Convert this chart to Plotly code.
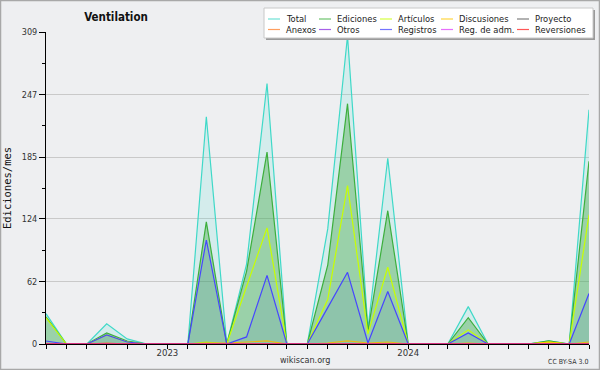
import plotly.graph_objects as go
import pandas as pd

# ---------------- data ----------------
months = pd.date_range("2022-07-01", periods=28, freq="MS")

total       = [30, 0, 0, 20, 5, 0, 0, 0, 225, 0, 79, 258, 0, 0, 114, 305, 15, 184, 0, 0, 0, 37, 0, 0, 0, 3, 0, 232]
ediciones   = [27, 0, 0, 11, 3, 0, 0, 0, 121, 0, 72, 190, 0, 0, 78, 238, 13, 132, 0, 0, 0, 26, 0, 0, 0, 3, 0, 181]
articulos   = [26, 0, 0, 9, 2, 0, 0, 0, 2, 0, 57, 115, 0, 0, 44, 157, 10, 76, 0, 0, 0, 14, 0, 0, 0, 2, 0, 128]
discusiones = [0, 0, 0, 0, 0, 0, 0, 0, 1, 1, 2, 3, 0, 0, 1, 3, 1, 2, 0, 0, 0, 1, 0, 0, 0, 2, 0, 2]
proyecto    = [0, 0, 0, 0, 0, 0, 0, 0, 0, 0, 0, 0, 0, 0, 0, 0, 0, 0, 0, 0, 0, 0, 0, 0, 0, 0, 0, 0]
anexos      = [0, 0, 0, 1, 0, 0, 0, 0, 0, 0, 0, 0, 0, 0, 0, 0, 0, 0, 0, 0, 0, 0, 0, 0, 0, 0, 0, 0]
otros       = [0, 0, 0, 0, 0, 0, 0, 0, 0, 0, 0, 0, 0, 0, 0, 0, 0, 0, 0, 0, 0, 0, 0, 0, 0, 0, 0, 0]
registros   = [3, 0, 0, 9, 2, 0, 0, 0, 103, 0, 7, 68, 0, 0, 36, 71, 1, 52, 0, 0, 0, 11, 0, 0, 0, 0, 0, 50]
reg_adm     = [0, 0, 0, 0, 0, 0, 0, 0, 0, 0, 0, 0, 0, 0, 0, 0, 0, 0, 0, 0, 0, 0, 0, 0, 0, 0, 0, 0]
reversiones = [0, 0, 0, 0, 0, 0, 0, 0, 0, 0, 0, 0, 0, 0, 0, 0, 0, 0, 0, 0, 0, 0, 0, 0, 0, 0, 0, 0]

series_names = ["Total", "Ediciones", "Artículos", "Discusiones", "Proyecto",
                "Anexos", "Otros", "Registros", "Reg. de adm.", "Reversiones"]
series_values = [total, ediciones, articulos, discusiones, proyecto,
                 anexos, otros, registros, reg_adm, reversiones]

y_tick_values = [0, 62, 124, 185, 247, 309]
y_minor_values = [31, 93, 154.5, 216, 278]
year_labels = {"2023-01": "2023", "2024-01": "2024"}

# ---------------- style ----------------
colors = ["#3fd9c8", "#3caf3c", "#c8ff00", "#ffc800", "#555555",
          "#ff7f2a", "#8a2be2", "#4646ff", "#e040fb", "#ff2020"]
fills = {"Total": "rgba(64,224,208,0.15)",
         "Ediciones": "rgba(60,165,60,0.38)",
         "Registros": "rgba(40,90,200,0.10)"}

W, H = 600, 370
ML, MR, MT, MB = 46, 11, 32, 26
PW, PH = W - ML - MR, H - MT - MB
BG = "#eeeff1"
FONT = "DejaVu Sans Condensed, DejaVu Sans, sans-serif"


def px_x(px):
    return (px - ML) / PW


def px_y(py):
    return 1 - (py - MT) / PH


fig = go.Figure()
for name, vals, col in zip(series_names, series_values, colors):
    fig.add_trace(go.Scatter(
        x=months, y=vals, name=name, mode="lines",
        line=dict(color=col, width=1.2),
        fill="tozeroy" if name in fills else None,
        fillcolor=fills.get(name),
        showlegend=False,
        hoverinfo="x+y+name",
    ))

tick_text = [year_labels.get(d.strftime("%Y-%m"), "") for d in months]

fig.update_layout(
    width=W, height=H,
    margin=dict(l=ML, r=MR, t=MT, b=MB, autoexpand=False),
    paper_bgcolor=BG, plot_bgcolor=BG,
    font=dict(family=FONT, size=9, color="#333333"),
    title=dict(text="<b>Ventilation</b>", xref="container", yref="container",
               x=116 / W, xanchor="center", y=1 - 17 / H, yanchor="middle",
               font=dict(family=FONT, size=11.5, color="#111111")),
    xaxis=dict(
        range=[months[0], months[-1]],
        tickmode="array", tickvals=months, ticktext=tick_text,
        ticks="outside", ticklen=4, tickcolor="#000", tickwidth=1,
        showline=True, linecolor="#000", linewidth=1,
        showgrid=False, zeroline=False,
        ticklabelstandoff=-4,
        tickfont=dict(size=9.5, color="#333"),
    ),
    yaxis=dict(
        range=[0, 309],
        tickmode="array", tickvals=y_tick_values,
        ticks="outside", ticklen=6, tickcolor="#000", tickwidth=1,
        showline=True, linecolor="#000", linewidth=1,
        showgrid=True, gridcolor="#c9c9c9", gridwidth=1,
        zeroline=False,
        minor=dict(tickvals=y_minor_values, ticks="outside", ticklen=3,
                   tickcolor="#000", showgrid=False),
        tickfont=dict(size=9, color="#333"),
        title=dict(text="Ediciones/mes", standoff=8,
                   font=dict(family="DejaVu Sans Mono", size=10.5, color="#111")),
    ),
)

shapes = []
annotations = []
# outer border
shapes.append(dict(type="rect", xref="paper", yref="paper",
                   x0=px_x(0.5), x1=px_x(W - 0.5), y0=px_y(H - 0.5), y1=px_y(0.5),
                   line=dict(color="#a8a8a8", width=1.5), fillcolor="rgba(0,0,0,0)",
                   layer="above"))

# legend box (shadow + white box)
LX0, LX1, LY0, LY1 = 264, 593, 8, 38
shapes.append(dict(type="rect", xref="paper", yref="paper",
                   x0=px_x(LX0 + 2), x1=px_x(LX1 + 2), y0=px_y(LY1 + 2), y1=px_y(LY0 + 2),
                   line=dict(width=0), fillcolor="#9a9a9a", layer="above"))
shapes.append(dict(type="rect", xref="paper", yref="paper",
                   x0=px_x(LX0), x1=px_x(LX1), y0=px_y(LY1), y1=px_y(LY0),
                   line=dict(color="#c8c8c8", width=1), fillcolor="#ffffff", layer="above"))
col_x = [268, 319, 380, 441, 517]
row_y = [19, 29.5]
for i, (name, col) in enumerate(zip(series_names, colors)):
    r, c = divmod(i, 5)
    x0 = col_x[c]
    y = row_y[r]
    shapes.append(dict(type="line", xref="paper", yref="paper",
                       x0=px_x(x0), x1=px_x(x0 + 12), y0=px_y(y), y1=px_y(y),
                       line=dict(color=col, width=1.2), opacity=0.75, layer="above"))
    annotations.append(dict(text=name, xref="paper", yref="paper",
                            x=px_x(x0 + 16), y=px_y(y), xanchor="left", yanchor="middle",
                            showarrow=False, font=dict(family=FONT, size=9.3, color="#222")))

annotations.append(dict(text="wikiscan.org", xref="paper", yref="paper",
                        x=px_x(305), y=px_y(360), xanchor="center", yanchor="middle",
                        showarrow=False, font=dict(family=FONT, size=9, color="#333")))
annotations.append(dict(text="CC BY-SA 3.0", xref="paper", yref="paper",
                        x=px_x(590), y=px_y(362), xanchor="right", yanchor="middle",
                        showarrow=False, font=dict(family=FONT, size=7, color="#333")))

fig.update_layout(shapes=shapes, annotations=annotations)
fig.write_html("out.html",
               config={"displayModeBar": False},
               post_script="document.body.style.margin='0';document.body.style.overflow='hidden';")
